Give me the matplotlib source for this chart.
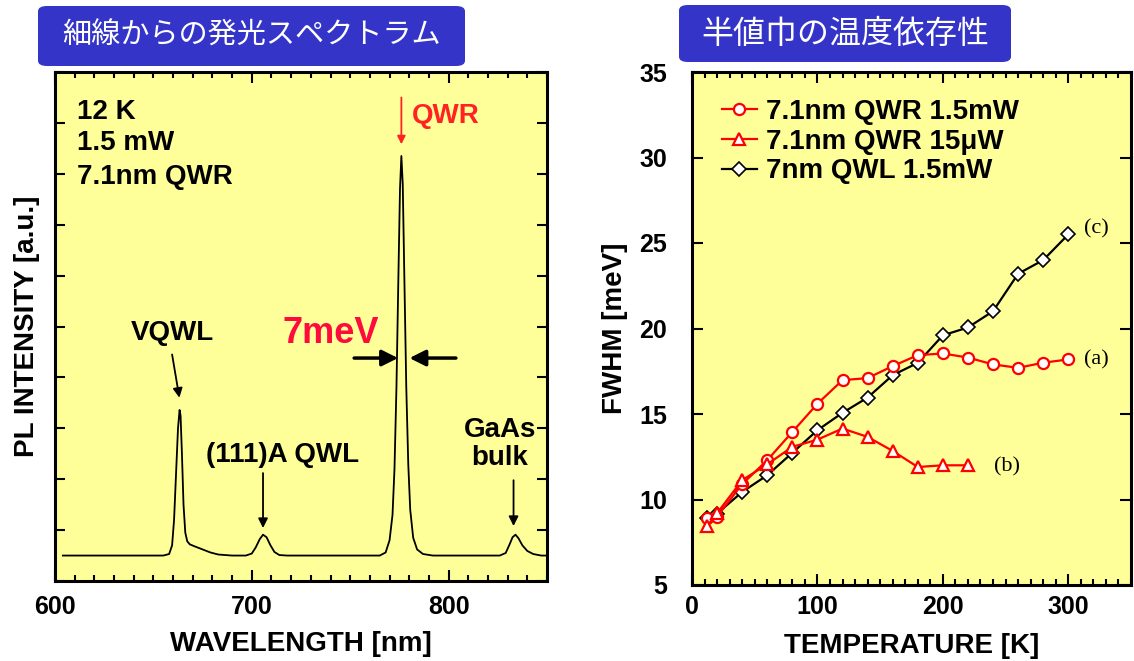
import matplotlib
matplotlib.use('Agg')
import matplotlib.pyplot as plt
from matplotlib.patches import FancyBboxPatch
from matplotlib.ticker import MultipleLocator

# ---------------- data ----------------
# PL spectrum (wavelength nm, intensity a.u.)
wavelength = [604, 630, 655, 658, 659.5, 660.5, 661.5, 662.5, 663.3, 663.8, 664.5, 665.3, 666.2, 667.2,
              668.5, 671, 675, 679, 683, 690, 697, 700, 702, 704, 705.7, 707.5, 709.5, 711.5, 714, 718,
              740, 765, 768, 770, 771.5, 772.5, 773.5, 774.5, 775.3, 776, 776.7, 777.5, 778.5, 779.5,
              780.5, 782, 784, 787, 792, 815, 826, 829, 831, 832.5, 834, 835.5, 837.5, 840, 843, 847, 850]
intensity = [0.50, 0.50, 0.50, 0.53, 0.70, 1.20, 2.10, 3.00, 3.36, 3.25, 2.50, 1.50, 0.95, 0.78,
             0.72, 0.68, 0.62, 0.56, 0.52, 0.50, 0.50, 0.54, 0.66, 0.82, 0.91, 0.86, 0.70, 0.57, 0.51, 0.50,
             0.50, 0.50, 0.56, 0.80, 1.30, 2.20, 3.80, 6.00, 7.70, 8.35, 7.80, 6.00, 3.80, 2.30,
             1.40, 0.85, 0.62, 0.53, 0.50, 0.50, 0.50, 0.55, 0.72, 0.86, 0.91, 0.84, 0.70, 0.59, 0.53, 0.50, 0.50]

# FWHM vs temperature
temp_a = [12, 20, 40, 60, 80, 100, 120, 140, 160, 180, 200, 220, 240, 260, 280, 300]
fwhm_a = [8.9, 9.0, 10.9, 12.3, 13.95, 15.6, 16.98, 17.1, 17.8, 18.44, 18.54, 18.3, 17.9, 17.7, 18.0, 18.19]
temp_b = [12, 20, 40, 60, 80, 100, 120, 140, 160, 180, 200, 220]
fwhm_b = [8.44, 9.2, 11.13, 12.06, 13.08, 13.5, 14.15, 13.66, 12.84, 11.9, 12.0, 12.0]
temp_c = [12, 20, 40, 60, 80, 100, 120, 140, 160, 180, 200, 220, 240, 260, 280, 300]
fwhm_c = [8.89, 9.18, 10.44, 11.42, 12.73, 14.05, 15.07, 15.96, 17.27, 17.99, 19.6, 20.06, 21.01, 23.2, 24.0, 25.5]

labels = ['7.1nm QWR 1.5mW', '7.1nm QWR 15μW', '7nm QWL 1.5mW']
left_title = '細線からの発光スペクトラム'
right_title = '半値巾の温度依存性'

# ---------------- style ----------------
W, H = 1134, 661
BG = '#FFFF99'
BLUE = '#3434C8'
SANS = ['Liberation Sans', 'DejaVu Sans']
plt.rcParams['font.family'] = SANS
plt.rcParams['font.weight'] = 'bold'
plt.rcParams['axes.labelweight'] = 'bold'

fig = plt.figure(figsize=(W / 100, H / 100), dpi=100)


def px_axes(l, r, t, b):
    return fig.add_axes([l / W, (H - b) / H, (r - l) / W, (b - t) / H])


# title boxes
for (x0, x1, y0, y1, txt, fs) in [(38, 465, 6, 66, left_title, 21), (679, 1011, 5, 62, right_title, 23)]:
    box = FancyBboxPatch((x0 / W, 1 - y1 / H), (x1 - x0) / W, (y1 - y0) / H,
                         boxstyle='round,pad=0,rounding_size=0.008', transform=fig.transFigure,
                         fc=BLUE, ec='none')
    fig.patches.append(box)
    fig.text((x0 + x1) / 2 / W, 1 - (y0 + y1) / 2 / H, txt, color='white', fontsize=fs,
             family=['Noto Sans CJK JP', 'DejaVu Sans'], weight='normal', ha='center', va='center')

# ---------------- left: spectrum ----------------
ax1 = px_axes(55, 547, 72, 581)
ax1.set_facecolor(BG)
ax1.plot(wavelength, intensity, color='black', lw=1.3)
ax1.set_xlim(600, 850)
ax1.set_ylim(0, 10)
ax1.xaxis.set_major_locator(MultipleLocator(100))
ax1.xaxis.set_minor_locator(MultipleLocator(10))
ax1.yaxis.set_major_locator(MultipleLocator(1))
ax1.tick_params(which='both', direction='in', top=True, right=True, width=1.5)
ax1.tick_params(axis='x', which='major', length=8, labelsize=18, pad=10)
ax1.tick_params(axis='x', which='minor', length=4)
ax1.tick_params(axis='y', which='major', length=7, labelleft=False)
for s in ax1.spines.values():
    s.set_linewidth(2.2)
ax1.set_xlabel('WAVELENGTH [nm]', fontsize=20, labelpad=9)
ax1.set_ylabel('PL INTENSITY [a.u.]', fontsize=20)
ax1.yaxis.set_label_coords(-15 / 492, 0.5)

TS = 20
for i, t in enumerate(['12 K', '1.5 mW', '7.1nm QWR']):
    ax1.text(611.4, [9.21, 8.6, 7.94][i], t, fontsize=TS, ha='left', va='center')

arw = dict(arrowstyle='-|>', color='black', lw=1.3, mutation_scale=14, shrinkA=0, shrinkB=0)
ax1.text(659.5, 4.87, 'VQWL', fontsize=TS, ha='center', va='center')
ax1.annotate('', xy=(663.2, 3.6), xytext=(659.5, 4.45), arrowprops=arw)
ax1.text(715.5, 2.48, '(111)A QWL', fontsize=TS, ha='center', va='center')
ax1.annotate('', xy=(705.7, 1.04), xytext=(705.7, 2.12), arrowprops=arw)
ax1.text(826, 2.97, 'GaAs', fontsize=TS, ha='center', va='center')
ax1.text(826, 2.42, 'bulk', fontsize=TS, ha='center', va='center')
ax1.annotate('', xy=(833, 1.08), xytext=(833, 1.98), arrowprops=arw)
ax1.text(781.5, 9.14, 'QWR', fontsize=TS, color='#FF2222', ha='left', va='center')
ax1.annotate('', xy=(776, 8.58), xytext=(776, 9.5),
             arrowprops=dict(arrowstyle='-|>', color='#FF2222', lw=1.3, mutation_scale=12, shrinkA=0, shrinkB=0))
ax1.text(740, 4.87, '7meV', fontsize=26, color='#FF0A3C', ha='center', va='center')
harw = dict(arrowstyle='-|>', color='black', lw=2.5, mutation_scale=24, shrinkA=0, shrinkB=0)
ax1.annotate('', xy=(774.3, 4.38), xytext=(752, 4.38), arrowprops=harw)
ax1.annotate('', xy=(780.1, 4.38), xytext=(803.7, 4.38), arrowprops=harw)

# ---------------- right: FWHM ----------------
ax2 = px_axes(692, 1131, 72, 585)
ax2.set_facecolor(BG)
ax2.plot(temp_a, fwhm_a, color='red', lw=1.6, marker='o', ms=8, mfc='white', mec='red', mew=1.6,
         label=labels[0], zorder=3)
ax2.plot(temp_b, fwhm_b, color='red', lw=1.6, marker='^', ms=9, mfc='white', mec='red', mew=1.6,
         label=labels[1], zorder=3)
ax2.plot(temp_c, fwhm_c, color='black', lw=1.6, marker='D', ms=7.5, mfc='white', mec='black', mew=1.2,
         label=labels[2], zorder=2)
ax2.set_xlim(0, 350)
ax2.set_ylim(5, 35)
ax2.xaxis.set_major_locator(MultipleLocator(100))
ax2.xaxis.set_minor_locator(MultipleLocator(10))
ax2.yaxis.set_major_locator(MultipleLocator(5))
ax2.tick_params(which='both', direction='in', top=True, right=True, width=1.5)
ax2.tick_params(axis='x', which='major', length=8, labelsize=18, pad=7)
ax2.tick_params(axis='x', which='minor', length=4)
ax2.tick_params(axis='y', which='major', length=8, labelsize=18, pad=18)
for s in ax2.spines.values():
    s.set_linewidth(2.2)
ax2.set_xlabel('TEMPERATURE [K]', fontsize=20, labelpad=10)
ax2.set_ylabel('FWHM [meV]', fontsize=20, labelpad=8)

ax2.legend(loc='upper left', bbox_to_anchor=(0.068, 0.947), frameon=False, borderpad=0, borderaxespad=0,
           handlelength=1.26, handletextpad=0.33, labelspacing=0.13,
           prop=dict(family=SANS, weight='bold', size=20))

serif = ['Liberation Serif', 'DejaVu Serif']
ax2.text(322.6, 18.15, '(a)', fontsize=16, family=serif, weight='normal', ha='center', va='center')
ax2.text(251, 11.9, '(b)', fontsize=16, family=serif, weight='normal', ha='center', va='center')
ax2.text(322.6, 25.85, '(c)', fontsize=16, family=serif, weight='normal', ha='center', va='center')

fig.savefig('out.png', dpi=100, facecolor='white')
